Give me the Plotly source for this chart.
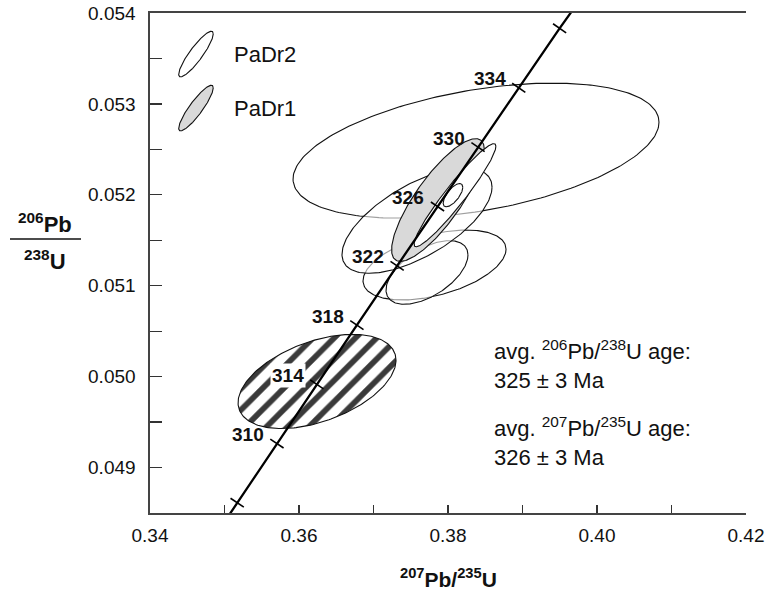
import numpy as np
import plotly.graph_objects as go

# ---------------- data ----------------
# Concordia reference points (age in Ma, 207Pb/235U, 206Pb/238U)
conc_age = [302, 306, 310, 314, 318, 322, 326, 330, 334, 338, 342]
conc_x = [0.3463869, 0.3517014, 0.3570367, 0.3623928, 0.3677709, 0.3731697,
          0.3785898, 0.3840313, 0.3894943, 0.3949789, 0.4006851]
conc_y = [0.0479624, 0.0486129, 0.0492638, 0.0499150, 0.0505667, 0.0512188,
          0.0518713, 0.0525242, 0.0531775, 0.0538312, 0.0544853]
tick_ages = [306, 310, 314, 318, 322, 326, 330, 334, 338]
label_ages = [310, 314, 318, 322, 326, 330, 334]

# Error ellipses: centre, half-extent and correlation
padr2_x = [0.38376, 0.37819, 0.37718, 0.37584, 0.38094, 0.38067]
padr2_sx = [0.02456, 0.00960, 0.00550, 0.01007, 0.00549, 0.00132]
padr2_y = [0.052486, 0.051228, 0.051146, 0.051715, 0.051996, 0.051996]
padr2_sy = [0.000743, 0.000385, 0.000350, 0.000578, 0.000567, 0.000128]
padr2_rho = [0.42, 0.45, 0.55, 0.64, 0.95, 0.68]

padr1_x = [0.37866]
padr1_sx = [0.00623]
padr1_y = [0.051943]
padr1_sy = [0.000675]
padr1_rho = [0.81]

hatch_x = [0.36242]
hatch_sx = [0.0106]
hatch_y = [0.049947]
hatch_sy = [0.000518]
hatch_rho = [0.45]

legend_names = ["PaDr2", "PaDr1"]
legend_x = [0.34617, 0.34617]
legend_sx = [0.00232, 0.00232]
legend_y = [0.053548, 0.052954]
legend_sy = [0.000251, 0.000251]
legend_rho = [0.887, 0.887]

# ---------------- layout constants ----------------
W, H = 771, 598
ML, MR, MT, MB = 150, 25, 13, 85
PW, PH = W - ML - MR, H - MT - MB
XR = [0.34, 0.42]
YR = [0.0485, 0.054]
kx = PW / (XR[1] - XR[0])
ky = PH / (YR[1] - YR[0])
FONT = "Liberation Sans, Arial, sans-serif"


def pxx(px):
    return (px - ML) / PW


def pxy(py):
    return (H - MB - py) / PH


def ellipse(x0, sx, y0, sy, rho, n=240):
    t = np.linspace(0, 2 * np.pi, n)
    x = x0 + sx * np.cos(t)
    y = y0 + sy * (rho * np.cos(t) + np.sqrt(1 - rho ** 2) * np.sin(t))
    return x, y


fig = go.Figure()


def add_ell(x0, sx, y0, sy, rho, fill, **kw):
    ex, ey = ellipse(x0, sx, y0, sy, rho)
    fig.add_trace(go.Scatter(x=ex, y=ey, mode="lines", fill="toself",
                             fillcolor=fill, line=dict(color="#111", width=1.1),
                             hoverinfo="skip", showlegend=False, **kw))


# hatched ellipse
add_ell(hatch_x[0], hatch_sx[0], hatch_y[0], hatch_sy[0], hatch_rho[0], "white",
        fillpattern=dict(shape="/", size=15, solidity=0.38, fgcolor="#3a3a3a",
                         fgopacity=1, bgcolor="white"))

# PaDr2 big + lower ellipses (under)
for i in [0, 1, 2]:
    add_ell(padr2_x[i], padr2_sx[i], padr2_y[i], padr2_sy[i], padr2_rho[i],
            "rgba(255,255,255,0.55)")
# medium PaDr2 ellipse
add_ell(padr2_x[3], padr2_sx[3], padr2_y[3], padr2_sy[3], padr2_rho[3],
        "rgba(255,255,255,0.6)")
# PaDr1 grey ellipse
add_ell(padr1_x[0], padr1_sx[0], padr1_y[0], padr1_sy[0], padr1_rho[0], "#d9d9d9")
# narrow PaDr2 ellipses on top
for i in [4, 5]:
    add_ell(padr2_x[i], padr2_sx[i], padr2_y[i], padr2_sy[i], padr2_rho[i], "white")

# legend ellipses
for i, c in enumerate(["white", "#d9d9d9"]):
    add_ell(legend_x[i], legend_sx[i], legend_y[i], legend_sy[i], legend_rho[i], c)
    fig.add_annotation(x=legend_x[i], y=legend_y[i], xref="x", yref="y",
                       text=legend_names[i], showarrow=False, xanchor="left",
                       yanchor="middle", xshift=36,
                       font=dict(family=FONT, size=22, color="#111"))

# concordia curve
fig.add_trace(go.Scatter(x=conc_x, y=conc_y, mode="lines",
                         line=dict(color="black", width=2.3),
                         hoverinfo="skip", showlegend=False))

# concordia age ticks (perpendicular, in pixel space)
half = 8.0
tx, ty = [], []
for a in tick_ages:
    i = conc_age.index(a)
    dxp = (conc_x[i + 1] - conc_x[i - 1]) * kx
    dyp = (conc_y[i + 1] - conc_y[i - 1]) * ky
    L = np.hypot(dxp, dyp)
    px, py = -dyp / L, dxp / L
    tx += [conc_x[i] - half * px / kx, conc_x[i] + half * px / kx, None]
    ty += [conc_y[i] - half * py / ky, conc_y[i] + half * py / ky, None]
fig.add_trace(go.Scatter(x=tx, y=ty, mode="lines",
                         line=dict(color="black", width=1.6),
                         hoverinfo="skip", showlegend=False))

for a in label_ages:
    i = conc_age.index(a)
    fig.add_annotation(x=conc_x[i], y=conc_y[i], xref="x", yref="y",
                       text="<b>%d</b>" % a, showarrow=False,
                       xanchor="right", yanchor="middle", xshift=-11, yshift=9,
                       bgcolor="white" if a == 314 else None, borderpad=1,
                       font=dict(family=FONT, size=19, color="#111"))

# average age text
txt = [("avg. <sup>206</sup>Pb/<sup>238</sup>U age:", 350),
       ("325 ± 3 Ma", 380),
       ("avg. <sup>207</sup>Pb/<sup>235</sup>U age:", 427),
       ("326 ± 3 Ma", 457)]
for s, ypx in txt:
    fig.add_annotation(x=pxx(492), y=pxy(ypx), xref="paper", yref="paper",
                       text=s, showarrow=False, xanchor="left", yanchor="middle",
                       font=dict(family=FONT, size=22, color="#111"))

# y axis title as a fraction
fig.add_annotation(x=pxx(45), y=pxy(223), xref="paper", yref="paper",
                   text="<b><sup>206</sup>Pb</b>", showarrow=False,
                   xanchor="center", yanchor="middle",
                   font=dict(family=FONT, size=22, color="#111"))
fig.add_annotation(x=pxx(45), y=pxy(260), xref="paper", yref="paper",
                   text="<b><sup>238</sup>U</b>", showarrow=False,
                   xanchor="center", yanchor="middle",
                   font=dict(family=FONT, size=22, color="#111"))
fig.add_shape(type="line", xref="paper", yref="paper",
              x0=pxx(10), x1=pxx(81), y0=pxy(239), y1=pxy(239),
              line=dict(color="#111", width=1.5))

# x axis title
fig.add_annotation(x=pxx(448), y=pxy(578), xref="paper", yref="paper",
                   text="<b><sup>207</sup>Pb/<sup>235</sup>U</b>", showarrow=False,
                   xanchor="center", yanchor="middle",
                   font=dict(family=FONT, size=21, color="#111"))

fig.update_layout(
    width=W, height=H,
    margin=dict(l=ML, r=MR, t=MT, b=MB, autoexpand=False),
    paper_bgcolor="white", plot_bgcolor="white",
    showlegend=False,
    xaxis=dict(range=XR, tick0=0.34, dtick=0.02, tickformat=".2f",
               ticks="inside", ticklen=8, tickwidth=1.3, tickcolor="#333",
               minor=dict(dtick=0.01, ticks="inside", ticklen=8, tickwidth=1.3,
                          tickcolor="#333", showgrid=False),
               showline=True, linecolor="#444", linewidth=1.6, mirror=True,
               showgrid=False, zeroline=False, automargin=False,
               ticklabelstandoff=5, ticklabeloverflow="allow",
               tickfont=dict(family=FONT, size=19, color="#111")),
    yaxis=dict(range=YR, tick0=0.049, dtick=0.001, tickformat=".3f",
               ticks="inside", ticklen=12, tickwidth=1.3, tickcolor="#333",
               minor=dict(dtick=0.0005, ticks="inside", ticklen=12, tickwidth=1.3,
                          tickcolor="#333", showgrid=False),
               showline=True, linecolor="#444", linewidth=1.6,
               showgrid=False, zeroline=False, automargin=False,
               ticklabelstandoff=9, ticklabeloverflow="allow",
               tickfont=dict(family=FONT, size=19, color="#111")),
)

fig.write_html("out.html",
               config={"displayModeBar": False, "staticPlot": True},
               post_script="document.body.style.margin='0px';"
                           "document.body.style.overflow='hidden';")
